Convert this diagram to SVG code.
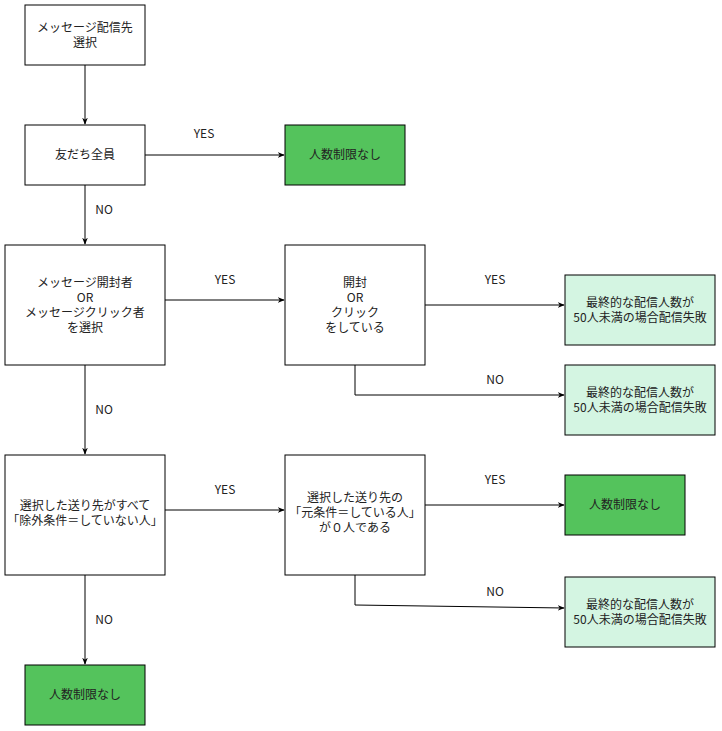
<svg xmlns="http://www.w3.org/2000/svg" width="722" height="731" viewBox="0 0 722 731">
<defs>
<marker id="ar" viewBox="0 0 10 10" refX="9" refY="5" markerWidth="7" markerHeight="7" orient="auto"><path d="M0,1 L10,5 L0,9 L3,5 Z" fill="#000"/></marker>
<style>
rect{stroke:#000;stroke-width:1}
.w{fill:#fff}.g{fill:#54C35C}.l{fill:#D4F5E2}
text{font-family:"Noto Sans CJK JP","Liberation Sans",sans-serif;font-size:12px;fill:#222;text-anchor:middle}
.c path{fill:none;stroke:#000;stroke-width:1;marker-end:url(#ar)}
</style>
</defs>
<rect width="722" height="731" fill="#fff" style="stroke:none"/>
<g class="c" id="connectors">
<path d="M85,65 V124"/>
<path d="M145,155 H284"/>
<path d="M85,185 V244"/>
<path d="M165,300 H284"/>
<path d="M425,305 H564"/>
<path d="M355,365 V395 H564"/>
<path d="M85,365 V454"/>
<path d="M165,510 H284"/>
<path d="M425,505 H564"/>
<path d="M355,575 V605 L564,608"/>
<path d="M85,575 V664"/>
<text x="204" y="138">YES</text>
<text x="104" y="214">NO</text>
<text x="225" y="284">YES</text>
<text x="495" y="284">YES</text>
<text x="495" y="384">NO</text>
<text x="104" y="414">NO</text>
<text x="225" y="494">YES</text>
<text x="495" y="484">YES</text>
<text x="495" y="596">NO</text>
<text x="104" y="624">NO</text>
</g>
<g id="n1"><rect class="w" x="25" y="5" width="120" height="60"/><text x="85" y="32">メッセージ配信先</text><text x="85" y="47">選択</text></g>
<g id="n2"><rect class="w" x="25" y="125" width="120" height="60"/><text x="85" y="159">友だち全員</text></g>
<g id="n3"><rect class="g" x="285" y="125" width="120" height="60"/><text x="345" y="159">人数制限なし</text></g>
<g id="n4"><rect class="w" x="5" y="245" width="160" height="120"/><text x="85" y="287">メッセージ開封者</text><text x="85" y="302">OR</text><text x="85" y="317">メッセージクリック者</text><text x="85" y="332">を選択</text></g>
<g id="n5"><rect class="w" x="285" y="245" width="140" height="120"/><text x="355" y="287">開封</text><text x="355" y="302">OR</text><text x="355" y="317">クリック</text><text x="355" y="332">をしている</text></g>
<g id="n6"><rect class="l" x="565" y="275" width="150" height="70"/><text x="640" y="307">最終的な配信人数が</text><text x="640" y="322">50人未満の場合配信失敗</text></g>
<g id="n7"><rect class="l" x="565" y="365" width="150" height="70"/><text x="640" y="397">最終的な配信人数が</text><text x="640" y="412">50人未満の場合配信失敗</text></g>
<g id="n8"><rect class="w" x="5" y="455" width="160" height="120"/><text x="85" y="510">選択した送り先がすべて</text><text x="85" y="525">「除外条件＝していない人」</text></g>
<g id="n9"><rect class="w" x="285" y="455" width="140" height="120"/><text x="355" y="502">選択した送り先の</text><text x="355" y="517">「元条件＝している人」</text><text x="355" y="532">が０人である</text></g>
<g id="n10"><rect class="g" x="565" y="475" width="120" height="60"/><text x="625" y="509">人数制限なし</text></g>
<g id="n11"><rect class="l" x="565" y="577" width="150" height="70"/><text x="640" y="609">最終的な配信人数が</text><text x="640" y="624">50人未満の場合配信失敗</text></g>
<g id="n12"><rect class="g" x="25" y="665" width="120" height="60"/><text x="85" y="699">人数制限なし</text></g>
</svg>
